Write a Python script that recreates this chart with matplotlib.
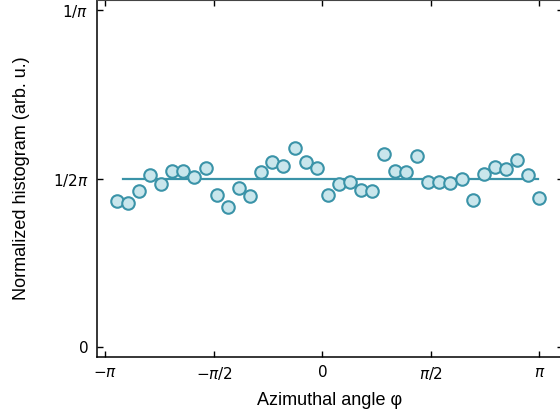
import numpy as np
import matplotlib
matplotlib.use('Agg')
import matplotlib.pyplot as plt

# histogram bin positions (39 bins over the full circle)
phi = np.linspace(-np.pi, np.pi, 40)[1:]

# normalized counts
counts = [0.1377, 0.1361, 0.1478, 0.1623, 0.1544, 0.1661, 0.1661, 0.1608,
          0.1696, 0.1433, 0.1323, 0.1503, 0.1430, 0.1658, 0.1750, 0.1715,
          0.1882, 0.1750, 0.1693, 0.1435, 0.1541, 0.1560, 0.1481, 0.1478,
          0.1828, 0.1661, 0.1655, 0.1809, 0.1560, 0.1557, 0.1551, 0.1589,
          0.1393, 0.1636, 0.1699, 0.1686, 0.1765, 0.1629, 0.1409]

# uniform distribution reference line
line_x = [-2.89, 3.12]
line_y = [1 / (2 * np.pi)] * 2

xticks = [-np.pi, -np.pi / 2, 0, np.pi / 2, np.pi]
xticklabels = [r'$-\pi$', r'$-\pi/2$', '0', r'$\pi/2$', r'$\pi$']
yticks = [0, 1 / (2 * np.pi), 1 / np.pi]
yticklabels = ['0', r'$1/2\pi$', r'$1/\pi$']

line_color = '#3a93a8'
face_color = '#c9e6ec'

fig = plt.figure(figsize=(5.6, 4.2), dpi=100)
ax = fig.add_axes([0.173, 0.15, 0.832, 0.851])

ax.plot(line_x, line_y, color=line_color, lw=1.6, zorder=2)
ax.plot(phi, counts, 'o', ms=9, mfc=face_color, mec=line_color, mew=1.5, zorder=3)

ax.set_xlim(-3.265, 3.48)
ax.set_ylim(-0.0095, 0.3285)
ax.set_xticks(xticks)
ax.set_xticklabels(xticklabels)
ax.set_yticks(yticks)
ax.set_yticklabels(yticklabels)
ax.tick_params(direction='in', length=4, width=1, labelsize=11,
               top=True, right=True, pad=6)

for side in ['top', 'right']:
    ax.spines[side].set_color('#444444')
for side in ['left', 'bottom']:
    ax.spines[side].set_linewidth(1.1)

ax.set_xlabel('Azimuthal angle \u03c6', fontsize=13, family='Liberation Sans', labelpad=7)
ax.set_ylabel('Normalized histogram (arb. u.)', fontsize=13, family='Liberation Sans', labelpad=17)

fig.savefig('out.png', dpi=100)
